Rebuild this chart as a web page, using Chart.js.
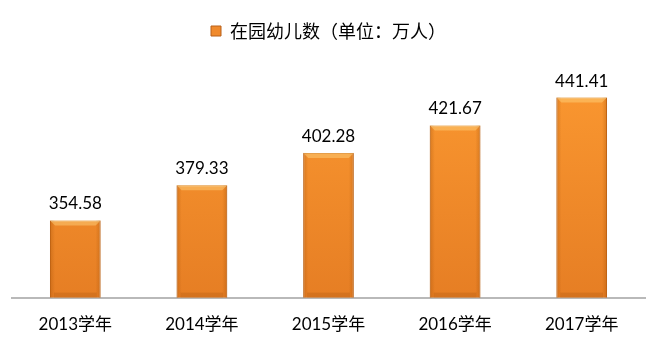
<!DOCTYPE html>
<html>
<head>
<meta charset="utf-8">
<script src="https://cdn.jsdelivr.net/npm/chart.js@4"></script>
<style>
  html, body { margin: 0; padding: 0; background: #fff; overflow: hidden; }
  #wrap { width: 659px; height: 352px; }
</style>
</head>
<body>
<div id="wrap"><canvas id="myChart"></canvas></div>
<script>
// data
var years = ['2013学年', '2014学年', '2015学年', '2016学年', '2017学年'];
var kids = [354.58, 379.33, 402.28, 421.67, 441.41];
var seriesName = '在园幼儿数（单位：万人）';

var numFont = "Lato, 'Noto Sans CJK SC', sans-serif";
var cjkFont = "'Noto Sans CJK SC', Lato, sans-serif";

// orange bar, lighter on top, darker at the bottom
function barFill(c) {
  var area = c.chart.chartArea;
  if (!area) return '#f58c28';
  var g = c.chart.ctx.createLinearGradient(0, area.top, 0, area.bottom);
  g.addColorStop(0, '#fd9b32');
  g.addColorStop(1, '#e67e24');
  return g;
}

// value labels + a bit of bevel on the bars
var valueLabels = {
  id: 'valueLabels',
  afterDatasetsDraw: function(chart) {
    var ctx = chart.ctx;
    var area = chart.chartArea;
    var meta = chart.getDatasetMeta(0);
    meta.data.forEach(function(bar, i) {
      var left = bar.x - bar.width / 2;
      var w = bar.width;
      var bottom = Math.min(bar.base, area.bottom);
      ctx.save();
      // side shading
      var side = ctx.createLinearGradient(left, 0, left + w, 0);
      side.addColorStop(0, 'rgba(150,70,0,0.3)');
      side.addColorStop(0.1, 'rgba(150,70,0,0)');
      side.addColorStop(0.9, 'rgba(150,70,0,0)');
      side.addColorStop(1, 'rgba(150,70,0,0.3)');
      ctx.fillStyle = side;
      ctx.fillRect(left, bar.y, w, bottom - bar.y);
      // top highlight
      ctx.fillStyle = 'rgba(255,215,130,0.45)';
      ctx.beginPath();
      ctx.moveTo(left, bar.y);
      ctx.lineTo(left + w, bar.y);
      ctx.lineTo(left + w - 5, bar.y + 5);
      ctx.lineTo(left + 5, bar.y + 5);
      ctx.closePath();
      ctx.fill();
      // bottom shade
      ctx.fillStyle = 'rgba(160,80,10,0.25)';
      ctx.fillRect(left + 4, bottom - 5, w - 8, 5);
      ctx.restore();

      ctx.save();
      ctx.font = '17px ' + numFont;
      ctx.fillStyle = '#000';
      ctx.textAlign = 'center';
      ctx.textBaseline = 'bottom';
      ctx.fillText(kids[i].toFixed(2), bar.x, bar.y - 8);
      ctx.restore();
    });
  }
};

var ctx = document.getElementById('myChart');
var myChart = new Chart(ctx, {
  type: 'bar',
  data: {
    labels: years,
    datasets: [{
      label: seriesName,
      data: kids,
      backgroundColor: barFill,
      borderColor: '#cf6f1c',
      borderWidth: 1,
      barPercentage: 0.8,
      categoryPercentage: 0.5
    }]
  },
  options: {
    responsive: true,
    maintainAspectRatio: false,
    animation: false,
    layout: { padding: { top: 12, left: 12, right: 14, bottom: 0 } },
    plugins: {
      tooltip: { enabled: false },
      legend: {
        position: 'top',
        labels: {
          boxWidth: 10,
          boxHeight: 10,
          padding: 10,
          color: '#000',
          font: { size: 18, family: cjkFont },
          generateLabels: function(chart) {
            return [{
              text: seriesName,
              fillStyle: '#f08a2c',
              strokeStyle: '#b8601a',
              lineWidth: 1,
              datasetIndex: 0
            }];
          }
        }
      }
    },
    scales: {
      x: {
        grid: { display: false, drawTicks: false },
        border: { display: true, color: '#b9b9b9', width: 2 },
        ticks: { color: '#000', padding: 17, font: { size: 17, family: numFont } }
      },
      y: {
        display: false,
        min: 300,
        max: 475
      }
    }
  },
  plugins: [valueLabels]
});
</script>
</body>
</html>
